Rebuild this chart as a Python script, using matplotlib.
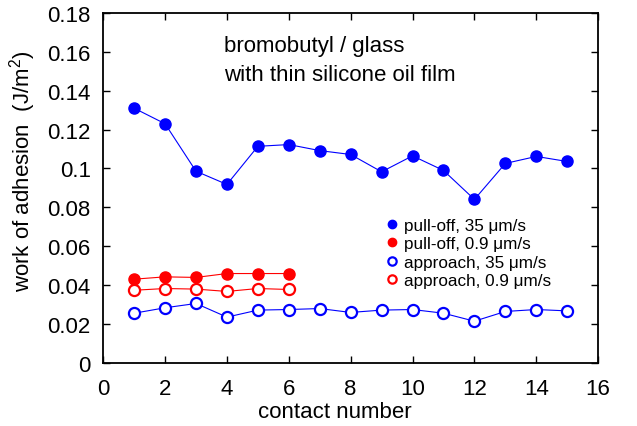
import matplotlib
matplotlib.use('Agg')
import matplotlib.pyplot as plt
import numpy as np

plt.rcParams['font.family'] = ['Liberation Sans', 'DejaVu Sans']
plt.rcParams['mathtext.fontset'] = 'custom'
plt.rcParams['mathtext.rm'] = 'Liberation Sans'
plt.rcParams['mathtext.default'] = 'regular'

# data
contact = np.arange(1, 16)
pull_fast = [0.131, 0.123, 0.0986, 0.0918, 0.1114, 0.1123, 0.1092, 0.1072,
             0.0983, 0.1065, 0.099, 0.0841, 0.1026, 0.1062, 0.1036]
appr_fast = [0.0256, 0.0284, 0.0306, 0.0236, 0.0272, 0.0275, 0.028, 0.026,
             0.0272, 0.0275, 0.0256, 0.0215, 0.0265, 0.0275, 0.0268]
contact_slow = np.arange(1, 7)
pull_slow = [0.0431, 0.0443, 0.044, 0.046, 0.046, 0.046]
appr_slow = [0.0374, 0.0383, 0.038, 0.0368, 0.0383, 0.0378]

xticks = np.arange(0, 17, 2)
yticks = [0, 0.02, 0.04, 0.06, 0.08, 0.1, 0.12, 0.14, 0.16, 0.18]
ylabels = ['0', '0.02', '0.04', '0.06', '0.08', '0.1', '0.12', '0.14', '0.16', '0.18']

fig = plt.figure(figsize=(6.37, 4.27), dpi=100)
ax = fig.add_axes([0.162, 0.1475, 0.777, 0.82])

ax.plot(contact, pull_fast, '-', color='blue', lw=0.8)
ax.plot(contact_slow, pull_slow, '-', color='red', lw=0.8)
ax.plot(contact, appr_fast, '-', color='blue', lw=0.8)
ax.plot(contact_slow, appr_slow, '-', color='red', lw=0.8)

h1, = ax.plot(contact, pull_fast, 'o', color='blue', ms=8, label='pull-off, 35 \u03bcm/s')
h2, = ax.plot(contact_slow, pull_slow, 'o', color='red', ms=8, label='pull-off, 0.9 \u03bcm/s')
h3, = ax.plot(contact, appr_fast, 'o', mfc='white', mec='blue', mew=1.6, ms=8,
              label='approach, 35 \u03bcm/s')
h4, = ax.plot(contact_slow, appr_slow, 'o', mfc='white', mec='red', mew=1.6, ms=8,
              label='approach, 0.9 \u03bcm/s')

ax.set_xlim(0, 16)
ax.set_ylim(0, 0.18)
ax.set_xticks(xticks)
ax.set_yticks(yticks)
ax.set_yticklabels(ylabels)
ax.tick_params(direction='in', top=True, right=True, length=5, width=1,
               labelsize=16)
ax.tick_params(axis='x', pad=11)
ax.tick_params(axis='y', pad=9)
for s in ax.spines.values():
    s.set_linewidth(1.3)

ax.set_xlabel('contact number', fontsize=16)
ax.xaxis.set_label_coords(0.468, -0.108)
ax.set_ylabel('work of adhesion  (J/m$^2$)', fontsize=16)
ax.yaxis.set_label_coords(-0.131, 0.549)

ax.text(3.9, 0.1605, 'bromobutyl / glass', fontsize=16, va='baseline', ha='left')
ax.text(3.9, 0.1455, 'with thin silicone oil film', fontsize=16, va='baseline', ha='left')

leg = ax.legend(handles=[h1, h2, h3, h4], loc='upper left',
                bbox_to_anchor=(0.555, 0.439), frameon=False, fontsize=12.3,
                handlelength=0.6, handletextpad=0.4, labelspacing=0.2,
                borderpad=0, markerscale=0.75)

fig.savefig('out.png', dpi=100)
